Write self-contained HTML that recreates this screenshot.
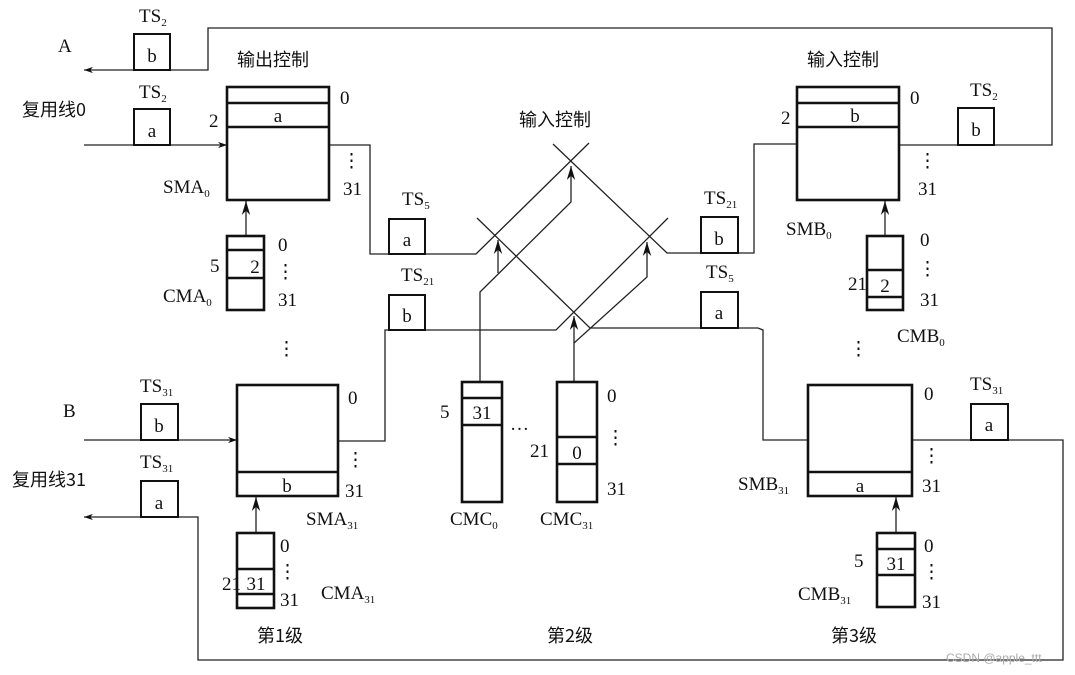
<!DOCTYPE html>
<html><head><meta charset="utf-8"><style>
html,body{margin:0;padding:0;background:#fff;}
svg{display:block;}
text{font-family:"Liberation Serif","Noto Serif CJK SC","Noto Sans CJK SC",serif;font-size:19px;fill:#111;}
.cj{font-family:"Noto Sans CJK SC","WenQuanYi Zen Hei",sans-serif;font-size:18px;}
.s{font-size:11px;}
</style></head><body>
<svg width="1075" height="675" viewBox="0 0 1075 675" xmlns="http://www.w3.org/2000/svg">
<defs><marker id="ar" viewBox="0 0 10 10" refX="10" refY="5" markerWidth="9" markerHeight="9" orient="auto-start-reverse" markerUnits="userSpaceOnUse"><path d="M0,1.5 L10,5 L0,8.5 L3,5 Z" fill="#111"/></marker>
<marker id="au" viewBox="0 0 10 10" refX="10" refY="5" markerWidth="14" markerHeight="14" orient="auto" markerUnits="userSpaceOnUse"><path d="M0,2 L10,5 L0,8 L3,5 Z" fill="#111"/></marker></defs>
<g fill="none" stroke="#222" stroke-width="1.3">
<!-- top return -->
<polyline points="899,145 1052,145 1052,28 208,28 208,70 84,70" marker-end="url(#ar)"/>
<line x1="84" y1="145" x2="227" y2="145" marker-end="url(#ar)"/>
<polyline points="329,145 370,145 370,254 476,254 589,143"/>
<polyline points="553,144 667,253 754,253 754,144 797,144"/>
<polyline points="477,218 590,328 758,328 763,330 763,440 808,440"/>
<polyline points="668,218 556,330 385,330 385,441 338,441"/>
<!-- control arrows -->
<polyline points="480,383 480,292 571,202 571,166" marker-end="url(#au)"/>
<line x1="498" y1="273" x2="498" y2="240" marker-end="url(#au)"/>
<polyline points="574,383 574,343 647,277 647,242" marker-end="url(#au)"/>
<line x1="574" y1="343" x2="574" y2="316" marker-end="url(#au)"/>
<line x1="246" y1="236" x2="246" y2="201" marker-end="url(#au)"/>
<line x1="885" y1="236" x2="885" y2="201" marker-end="url(#au)"/>
<line x1="256" y1="533" x2="256" y2="497" marker-end="url(#au)"/>
<line x1="896" y1="533" x2="896" y2="497" marker-end="url(#au)"/>
<!-- bottom -->
<line x1="84" y1="440" x2="237" y2="440" marker-end="url(#ar)"/>
<polyline points="912,440 1063,440 1063,660 198,660 198,517 84,517" marker-end="url(#ar)"/>
</g>
<g fill="#fff" stroke="#111" stroke-width="2">
<rect x="134" y="34" width="36" height="36"/><rect x="134" y="109" width="36" height="36"/>
<rect x="389" y="219" width="36" height="35"/><rect x="389" y="295" width="36" height="35"/>
<rect x="701" y="217" width="37" height="36"/><rect x="701" y="292" width="37" height="36"/>
<rect x="958" y="108" width="36" height="37"/><rect x="141" y="404" width="37" height="36"/>
<rect x="141" y="481" width="37" height="36"/><rect x="971" y="404" width="37" height="36"/>
</g>
<g fill="none" stroke="#111" stroke-width="2.6">
<rect x="227" y="87" width="102" height="113"/><line x1="227" y1="103" x2="329" y2="103"/><line x1="227" y1="127" x2="329" y2="127"/>
<rect x="797" y="87" width="102" height="113"/><line x1="797" y1="103" x2="899" y2="103"/><line x1="797" y1="127" x2="899" y2="127"/>
<rect x="237" y="385" width="101" height="111"/><line x1="237" y1="472" x2="338" y2="472"/>
<rect x="808" y="385" width="104" height="111"/><line x1="808" y1="472" x2="912" y2="472"/>
<rect x="227" y="236" width="37" height="74"/><line x1="227" y1="250" x2="264" y2="250"/><line x1="227" y1="278" x2="264" y2="278"/>
<rect x="867" y="236" width="36" height="74"/><line x1="867" y1="270" x2="903" y2="270"/><line x1="867" y1="297" x2="903" y2="297"/>
<rect x="237" y="533" width="37" height="75"/><line x1="237" y1="569" x2="274" y2="569"/><line x1="237" y1="594" x2="274" y2="594"/>
<rect x="877" y="533" width="38" height="74"/><line x1="877" y1="549" x2="915" y2="549"/><line x1="877" y1="575" x2="915" y2="575"/>
<rect x="462" y="382" width="40" height="120"/><line x1="462" y1="398" x2="502" y2="398"/><line x1="462" y1="425" x2="502" y2="425"/>
<rect x="557" y="382" width="40" height="120"/><line x1="557" y1="437" x2="597" y2="437"/><line x1="557" y1="464" x2="597" y2="464"/>
</g>
<g text-anchor="middle">
<text x="152" y="62">b</text><text x="152" y="137">a</text>
<text x="407" y="246">a</text><text x="407" y="322">b</text>
<text x="719" y="245">b</text><text x="719" y="319">a</text>
<text x="976" y="136">b</text><text x="159" y="432">b</text><text x="159" y="509">a</text><text x="989" y="431">a</text>
<text x="278" y="122">a</text><text x="855" y="122">b</text>
<text x="287" y="492">b</text><text x="860" y="492">a</text>
<text x="255" y="273">2</text><text x="885" y="292">2</text>
<text x="256" y="590">31</text><text x="896" y="570">31</text>
<text x="482" y="419">31</text><text x="577" y="459">0</text>
</g>
<!-- TS labels -->
<text x="139" y="22">TS<tspan class="s" dy="4">2</tspan></text>
<text x="139" y="98">TS<tspan class="s" dy="4">2</tspan></text>
<text x="402" y="205">TS<tspan class="s" dy="4">5</tspan></text>
<text x="401" y="281">TS<tspan class="s" dy="4">21</tspan></text>
<text x="704" y="204">TS<tspan class="s" dy="4">21</tspan></text>
<text x="706" y="278">TS<tspan class="s" dy="4">5</tspan></text>
<text x="970" y="96">TS<tspan class="s" dy="4">2</tspan></text>
<text x="140" y="392">TS<tspan class="s" dy="4">31</tspan></text>
<text x="140" y="468">TS<tspan class="s" dy="4">31</tspan></text>
<text x="970" y="390">TS<tspan class="s" dy="4">31</tspan></text>
<text x="58" y="52">A</text><text x="63" y="417">B</text>
<text class="cj" x="22" y="116">复用线0</text><text class="cj" x="12" y="486">复用线31</text>
<text class="cj" x="237" y="66">输出控制</text><text class="cj" x="807" y="66">输入控制</text><text class="cj" x="519" y="126">输入控制</text>
<text class="cj" x="257" y="642">第1级</text><text class="cj" x="547" y="642">第2级</text><text class="cj" x="831" y="642">第3级</text>
<!-- numbers -->
<text x="340" y="104">0</text><text x="209" y="127">2</text><text x="342" y="167">⋮</text><text x="343" y="195">31</text>
<text x="910" y="104">0</text><text x="781" y="124">2</text><text x="918" y="167">⋮</text><text x="918" y="195">31</text>
<text x="163" y="193">SMA<tspan class="s" dy="4">0</tspan></text>
<text x="163" y="302">CMA<tspan class="s" dy="4">0</tspan></text>
<text x="278" y="251">0</text><text x="210" y="272">5</text><text x="276" y="278">⋮</text><text x="278" y="306">31</text>
<text x="786" y="235">SMB<tspan class="s" dy="4">0</tspan></text>
<text x="920" y="246">0</text><text x="848" y="290">21</text><text x="918" y="275">⋮</text><text x="920" y="306">31</text>
<text x="897" y="342">CMB<tspan class="s" dy="4">0</tspan></text>
<text x="277" y="355">⋮</text><text x="849" y="355">⋮</text>
<text x="348" y="404">0</text><text x="346" y="466">⋮</text><text x="345" y="497">31</text>
<text x="306" y="525">SMA<tspan class="s" dy="4">31</tspan></text>
<text x="280" y="552">0</text><text x="278" y="578">⋮</text><text x="280" y="606">31</text><text x="222" y="590">21</text>
<text x="321" y="599">CMA<tspan class="s" dy="4">31</tspan></text>
<text x="440" y="418">5</text><text x="510" y="430">…</text>
<text x="530" y="457">21</text><text x="607" y="402">0</text><text x="606" y="444">⋮</text><text x="607" y="495">31</text>
<text x="450" y="525">CMC<tspan class="s" dy="4">0</tspan></text><text x="540" y="525">CMC<tspan class="s" dy="4">31</tspan></text>
<text x="924" y="400">0</text><text x="922" y="462">⋮</text><text x="922" y="492">31</text>
<text x="738" y="490">SMB<tspan class="s" dy="4">31</tspan></text>
<text x="924" y="552">0</text><text x="922" y="578">⋮</text><text x="922" y="608">31</text><text x="854" y="567">5</text>
<text x="798" y="600">CMB<tspan class="s" dy="4">31</tspan></text>
<text x="946" y="662" style="font-family:'Liberation Sans',sans-serif;font-size:12px;fill:#aaa">CSDN @apple_ttt</text>
</svg>
</body></html>
